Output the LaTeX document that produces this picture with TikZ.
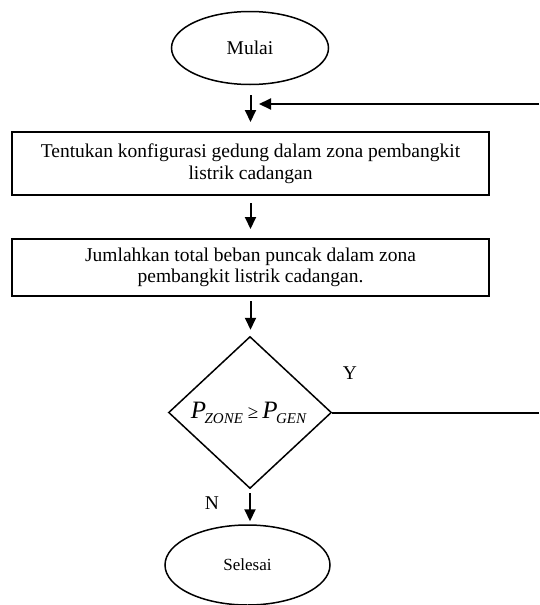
\documentclass[tikz,border=0pt]{standalone}
\usepackage{fontspec}
\setmainfont{Liberation Serif}
\usetikzlibrary{shapes.geometric,arrows.meta}
\begin{document}
\begin{tikzpicture}[x=1pt,y=-1pt,
  txt/.style={font=\fontsize{19.5}{21.5}\selectfont},
  terminal/.style={draw,ellipse,line width=1.5pt,inner sep=0pt,txt},
  procbox/.style={draw,rectangle,line width=2pt,minimum width=477pt,inner sep=0pt,align=center,txt},
  decision/.style={draw,diamond,line width=1.5pt,inner sep=0pt,minimum width=163pt,minimum height=152pt},
  flow/.style={line width=2pt,-{Triangle[width=11pt,length=12pt]}},
  plain/.style={line width=2pt}]
\useasboundingbox (0,0) rectangle (539,605);
\node[terminal,minimum width=157pt,minimum height=73pt] (mulai) at (250,48) {Mulai};
\node[procbox,minimum height=63pt] (box1) at (250.5,163.5) {Tentukan konfigurasi gedung dalam zona pembangkit\\listrik cadangan};
\node[procbox,minimum height=57pt] (box2) at (250.5,267.5) {Jumlahkan total beban puncak dalam zona\\pembangkit listrik cadangan.};
\node[decision] (dec) at (250,412.5) {};
\node[font=\fontsize{25}{25}\selectfont\itshape,inner sep=0pt] (cond) at (248.5,413) {P\kern-1.5pt\raisebox{-5pt}{\fontsize{15}{15}\selectfont ZONE}\kern5pt{\upshape\fontsize{19}{19}\selectfont ≥}\kern4pt P\kern-1.5pt\raisebox{-5pt}{\fontsize{15}{15}\selectfont GEN}};
\node[terminal,minimum width=165pt,minimum height=80pt,font=\fontsize{17}{17}\selectfont] (selesai) at (247.5,565) {Selesai};
\node[txt] (ylab) at (350,373) {Y};
\node[txt] (nlab) at (212,503) {N};
\coordinate (fbR) at (539,104);
\coordinate (fbL) at (259,104);
\coordinate (decR) at (539,412.5);
\draw[flow,shorten <=10pt,shorten >=9pt] (mulai.south -| box1.north) -- (box1.north);
\draw[flow] (fbR) -- (fbL);
\draw[flow,shorten <=7pt,shorten >=9pt] (box1.south) -- (box2.north);
\draw[flow,shorten <=4pt,shorten >=6pt] (box2.south) -- (box2.south |- dec.north);
\draw[flow,shorten <=4pt,shorten >=3pt] (dec.south) -- (dec.south |- selesai.north);
\draw[plain] (dec.east) -- (decR);
\end{tikzpicture}
\end{document}
